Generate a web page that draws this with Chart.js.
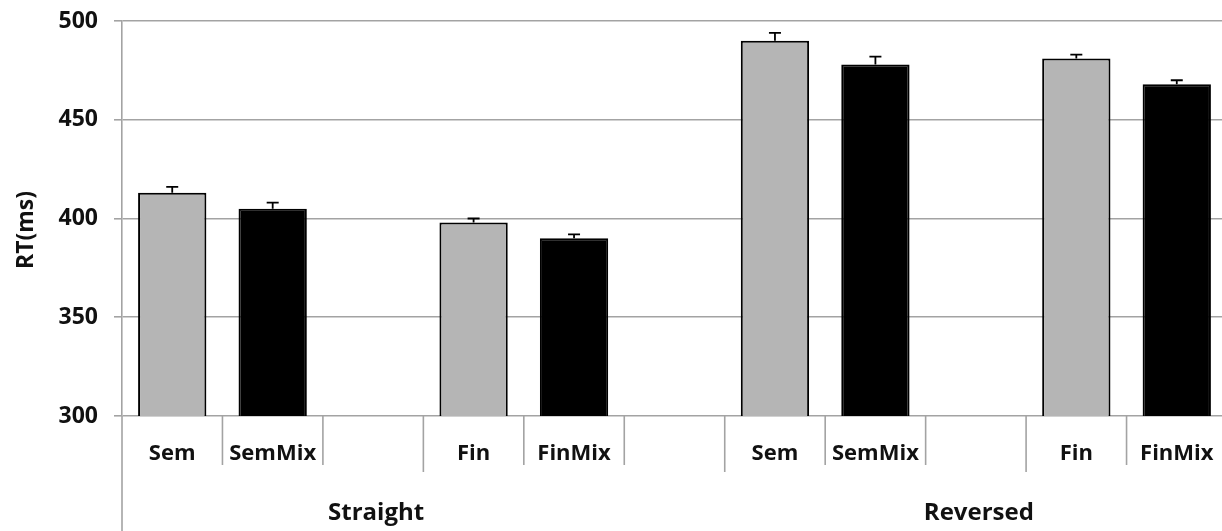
<!DOCTYPE html>
<html>
<head>
<meta charset="utf-8">
<script src="https://cdn.jsdelivr.net/npm/chart.js@4"></script>
<style>
  html, body { margin: 0; padding: 0; overflow: hidden; background: #fff; }
  #wrap { width: 1227px; height: 531px; position: relative; }
</style>
</head>
<body>
<div id="wrap"><canvas id="rtChart"></canvas></div>
<script>
// data
const categories = ["Sem", "SemMix", "", "Fin", "FinMix", "", "Sem", "SemMix", "", "Fin", "FinMix"];
const rtValues = [413, 405, null, 398, 390, null, 490, 478, null, 481, 468];
const rtErrors = [3, 3, null, 2, 2, null, 4, 4, null, 2, 2];
const groupLabels = ["Straight", "Reversed"];
const groupRanges = [[0, 4], [6, 10]];
const yTickValues = [300, 350, 400, 450, 500];

const gridGray = "#a3a3a3";
const textColor = "#111";
const fontFamily = "'Open Sans', sans-serif";
const barColors = categories.map((c) => (c.endsWith("Mix") ? "#000000" : "#b5b5b5"));

// error bars, category dividers, labels and axis title
const decorations = {
    id: "decorations",
    afterDatasetsDraw(chart) {
        const ctx = chart.ctx;
        const y = chart.scales.y;
        const meta = chart.getDatasetMeta(0);

        ctx.save();
        ctx.strokeStyle = "#000";
        ctx.lineWidth = 1.8;
        rtValues.forEach((v, i) => {
            if (v === null) return;
            const bx = meta.data[i].x;
            const y0 = y.getPixelForValue(v);
            const y1 = y.getPixelForValue(v + rtErrors[i]);
            ctx.beginPath();
            ctx.moveTo(bx, y0);
            ctx.lineTo(bx, y1);
            ctx.moveTo(bx - 6, y1);
            ctx.lineTo(bx + 6, y1);
            ctx.stroke();
        });
        ctx.restore();
    },
    afterDraw(chart) {
        const ctx = chart.ctx;
        const x = chart.scales.x;
        const area = chart.chartArea;
        const catW = (area.right - area.left) / categories.length;

        ctx.save();
        ctx.strokeStyle = gridGray;
        ctx.lineWidth = 1.6;
        // left axis line runs down to the bottom
        ctx.beginPath();
        ctx.moveTo(area.left, area.bottom);
        ctx.lineTo(area.left, chart.height);
        ctx.stroke();
        for (let i = 1; i < categories.length; i++) {
            const bx = x.getPixelForValue(i) - catW / 2;
            const long = categories[i - 1] === "";
            ctx.beginPath();
            ctx.moveTo(bx, area.bottom);
            ctx.lineTo(bx, area.bottom + (long ? 56 : 49));
            ctx.stroke();
        }

        ctx.fillStyle = textColor;
        ctx.textAlign = "center";
        ctx.textBaseline = "middle";
        ctx.font = "bold 22px " + fontFamily;
        categories.forEach((c, i) => {
            if (!c) return;
            ctx.fillText(c, x.getPixelForValue(i), area.bottom + 38);
        });

        ctx.font = "bold 24px " + fontFamily;
        groupLabels.forEach((g, k) => {
            const [a, b] = groupRanges[k];
            const gx = (x.getPixelForValue(a) + x.getPixelForValue(b)) / 2;
            ctx.fillText(g, gx + 3, area.bottom + 97);
        });

        // y title
        ctx.font = "bold 23px " + fontFamily;
        ctx.translate(26, 230);
        ctx.rotate(-Math.PI / 2);
        ctx.fillText("RT(ms)", 0, 0);
        ctx.restore();
    },
};

new Chart(document.getElementById("rtChart"), {
    type: "bar",
    plugins: [decorations],
    data: {
        labels: categories,
        datasets: [
            {
                data: rtValues,
                backgroundColor: barColors,
                borderColor: "#000",
                borderWidth: 2,
                barPercentage: 0.68,
                categoryPercentage: 1,
            },
        ],
    },
    options: {
        responsive: true,
        maintainAspectRatio: false,
        animation: false,
        layout: { padding: { top: 21, bottom: 115, left: 0, right: 0 } },
        plugins: {
            legend: { display: false },
            tooltip: { enabled: false },
        },
        scales: {
            x: { display: false },
            y: {
                min: 300,
                max: 500,
                afterFit: (s) => {
                    s.width = 122;
                    s.paddingTop = 0;
                    s.paddingBottom = 0;
                },
                afterBuildTicks: (s) => { s.ticks = yTickValues.map((v) => ({ value: v })); },
                grid: { color: gridGray, lineWidth: 1.6, tickLength: 8 },
                border: { color: gridGray, width: 1.6 },
                ticks: {
                    padding: 16,
                    color: textColor,
                    font: { family: fontFamily, size: 23, weight: "bold" },
                },
            },
        },
    },
});
</script>
</body>
</html>
